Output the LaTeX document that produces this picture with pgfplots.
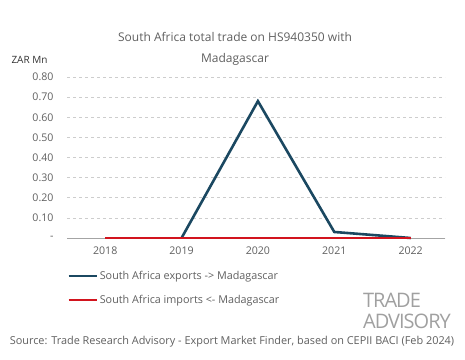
\documentclass[border=0pt]{standalone}
\usepackage{pgfplots}
\pgfplotsset{compat=1.18}
\usepackage{fontspec}
\setmainfont{Open Sans}
\definecolor{txt}{RGB}{95,95,95}
\definecolor{expc}{RGB}{27,72,97}
\definecolor{impc}{RGB}{210,20,30}
\definecolor{gridc}{RGB}{205,205,205}
\definecolor{logo}{RGB}{160,160,160}
\begin{document}
\begin{tikzpicture}[x=1pt,y=1pt]
\path[use as bounding box] (0,0) rectangle (465,359);
\node[text=txt,font=\fontsize{12}{13}\selectfont] at (235,322) {South Africa total trade on HS940350 with};
\node[text=txt,font=\fontsize{12}{13}\selectfont] at (235,300) {Madagascar};
\node[text=black!80,font=\fontsize{10}{11}\selectfont,anchor=west] at (8,299) {ZAR Mn};
\begin{axis}[
  at={(67pt,121pt)}, anchor=south west,
  scale only axis, width=378pt, height=161pt,
  xmin=-0.5, xmax=4.45, ymin=0, ymax=0.8,
  axis line style={draw=none},
  axis x line*=bottom,
  xtick={0,1,2,3,4}, xticklabels={2018,2019,2020,2021,2022},
  ytick={0,0.1,0.2,0.3,0.4,0.5,0.6,0.7,0.8},
  yticklabels={-,0.10,0.20,0.30,0.40,0.50,0.60,0.70,0.80},
  major tick length=0pt,
  xmajorgrids=false, ymajorgrids=true,
  major grid style={draw=gridc, dashed, line width=0.6pt},
  tick label style={text=txt, font=\fontsize{10.6}{12}\selectfont},
  yticklabel style={xshift=-10pt},
  xticklabel style={yshift=-5pt},
  legend style={at={(0.0,-0.18)}, anchor=north west, draw=none, fill=none,
    font=\fontsize{10.8}{12}\selectfont, text=txt, row sep=10pt,
    inner xsep=0pt},
  legend cell align=left,
  legend image code/.code={\draw[#1,line width=2.6pt] (0pt,0pt) -- (28pt,0pt);},
  clip=false,
]
\draw[gridc!80!black, line width=0.6pt] (axis cs:-0.5,0) -- (axis cs:4.45,0);
\addplot[expc, line width=2.6pt, line join=miter] coordinates {(1,0) (2,0.68) (3,0.03) (4,0)};
\addlegendentry{South Africa exports -> Madagascar}
\addplot[impc, line width=2.6pt] coordinates {(0,0) (1,0) (2,0) (3,0) (4,0)};
\addlegendentry{South Africa imports <- Madagascar}
\end{axis}
\node[text=logo,font=\fontsize{20}{20}\selectfont,anchor=center,inner sep=0pt] at (392,59) {\addfontfeatures{LetterSpace=-5}TRADE};
\node[text=logo,font=\fontsize{20}{20}\selectfont,anchor=center,inner sep=0pt] at (407,38) {\addfontfeatures{LetterSpace=-5}ADVISORY};
\node[text=txt,font=\fontsize{10.9}{12}\selectfont] at (232,17) {Source: Trade Research Advisory - Export Market Finder, based on CEPII BACI (Feb 2024)};
\end{tikzpicture}
\end{document}
